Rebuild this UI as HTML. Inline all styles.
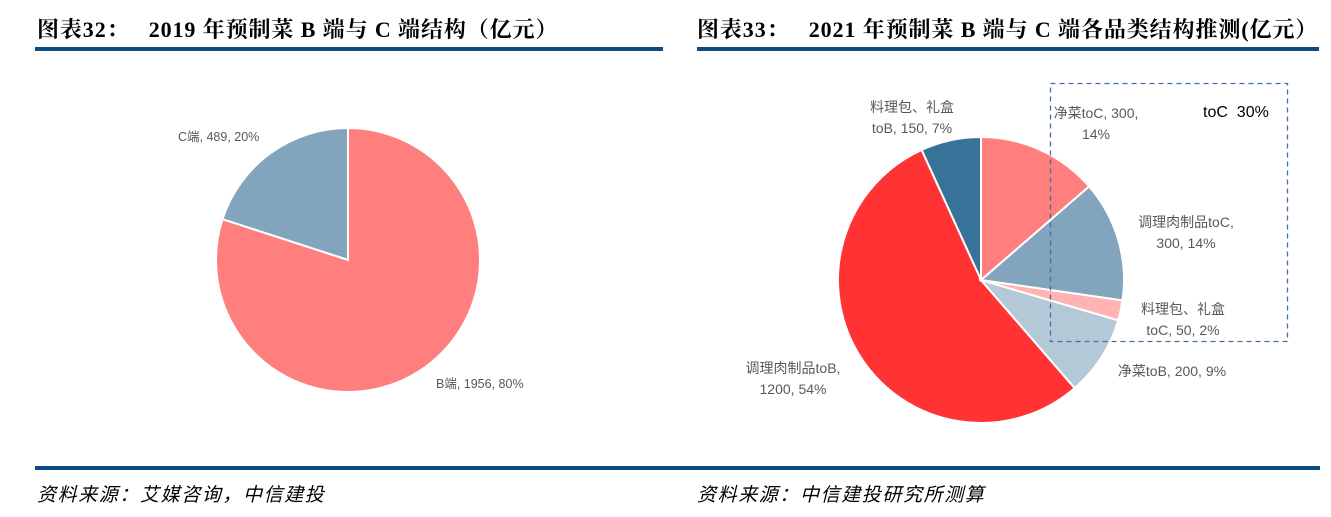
<!DOCTYPE html>
<html><head><meta charset="utf-8"><style>
body{margin:0;width:1331px;height:517px;background:#fff;position:relative;overflow:hidden;font-family:"Liberation Serif","Noto Serif CJK SC",serif}
.t{position:absolute;top:13px;font-size:22px;letter-spacing:0.9px;font-weight:bold;color:#000;white-space:nowrap}
.bar{position:absolute;height:4px;background:#0f4c81}
.src{position:absolute;top:480px;font-size:19px;letter-spacing:1.6px;font-style:italic;font-family:"Liberation Serif","Noto Sans CJK SC",sans-serif;color:#000}
svg{position:absolute;left:0;top:0}
svg text{font-family:"Liberation Sans","Noto Sans CJK SC",sans-serif;fill:#595959}
</style></head><body>
<div class="t" style="left:37px">图表32：&nbsp;&nbsp; 2019 年预制菜 B 端与 C 端结构（亿元）</div>
<div class="t" style="left:697px">图表33：&nbsp;&nbsp; 2021 年预制菜 B 端与 C 端各品类结构推测(亿元）</div>
<div class="bar" style="left:35px;width:628px;top:47px"></div>
<div class="bar" style="left:697px;width:622px;top:47px"></div>
<div class="bar" style="left:35px;width:1285px;top:466px"></div>
<div class="src" style="left:37px">资料来源：艾媒咨询，中信建投</div>
<div class="src" style="left:697px">资料来源：中信建投研究所测算</div>
<svg width="1331" height="517" id="s">
<rect x="1050.5" y="83.5" width="237" height="258" fill="none" stroke="#41719c" stroke-width="1.3" stroke-dasharray="5,4"/>
<text x="1203" y="117" font-size="16" style="fill:#000">toC&nbsp; 30%</text>
</svg>
<script>
const leftCats=["B端","C端"];
const leftVals=[1956,489];
const leftPcts=["80%","20%"];
const leftColors=["#ff7f7f","#82a5bd"];
const rightCats=["净菜toC","调理肉制品toC","料理包、礼盒toC","净菜toB","调理肉制品toB","料理包、礼盒toB"];
const rightVals=[300,300,50,200,1200,150];
const rightPcts=["14%","14%","2%","9%","54%","7%"];
const rightColors=["#ff7f7f","#82a5bd","#ffb3b3","#b4c9d8","#ff3333","#377298"];
const NS="http://www.w3.org/2000/svg";
const svg=document.getElementById('s');
function pie(cx,cy,r,vals,colors,prefix){
  const tot=vals.reduce((a,b)=>a+b,0);let a=0;
  vals.forEach((v,i)=>{
    const a0=a/tot*2*Math.PI;a+=v;const a1=a/tot*2*Math.PI;
    const x0=cx+r*Math.sin(a0),y0=cy-r*Math.cos(a0),x1=cx+r*Math.sin(a1),y1=cy-r*Math.cos(a1);
    const p=document.createElementNS(NS,'path');
    p.setAttribute('d',`M${cx},${cy}L${x0},${y0}A${r},${r} 0 ${a1-a0>Math.PI?1:0} 1 ${x1},${y1}Z`);
    p.setAttribute('fill',colors[i]);p.setAttribute('stroke','#fff');p.setAttribute('stroke-width','2');
    
    
    svg.insertBefore(p,svg.firstChild);
  });
}
pie(348,260,132,leftVals,leftColors,'left');
pie(981,280,143,rightVals,rightColors,'right');
function lbl(x,y,lines,size,anchor){
  lines.forEach((s,k)=>{
    const t=document.createElementNS(NS,'text');
    t.setAttribute('x',x);t.setAttribute('y',y+k*21);t.setAttribute('font-size',size);t.setAttribute('text-anchor',anchor);
    t.textContent=s;
    
    
    svg.appendChild(t);
  });
}
lbl(436,388,[leftCats[0]+', '+leftVals[0]+', '+leftPcts[0]],12.5,'start');
lbl(178,141,[leftCats[1]+', '+leftVals[1]+', '+leftPcts[1]],12.5,'start');
lbl(1096,118,[rightCats[0]+', '+rightVals[0]+',',rightPcts[0]],14,'middle');
lbl(1186,227,[rightCats[1]+',',rightVals[1]+', '+rightPcts[1]],14,'middle');
lbl(1183,314,['料理包、礼盒','toC, '+rightVals[2]+', '+rightPcts[2]],14,'middle');
lbl(1172,376,[rightCats[3]+', '+rightVals[3]+', '+rightPcts[3]],14,'middle');
lbl(793,373,[rightCats[4]+',',rightVals[4]+', '+rightPcts[4]],14,'middle');
lbl(912,112,['料理包、礼盒','toB, '+rightVals[5]+', '+rightPcts[5]],14,'middle');
</script>
</body></html>
